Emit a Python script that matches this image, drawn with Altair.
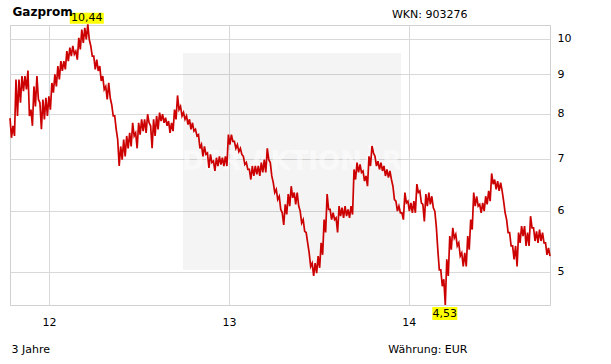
import altair as alt
import pandas as pd

# ---- data (Gazprom, EUR, 3 years) ----
# per-sample high / low of the dense daily price band, left to right
high = [7.90, 7.72, 8.86, 8.86, 8.95, 8.95, 9.10, 8.10, 8.68, 8.95, 8.27, 8.35, 8.39, 8.43, 8.77,
        9.00, 9.22, 9.36, 9.36, 9.64, 9.74, 9.79, 9.64, 10.03, 10.28, 10.33, 10.44, 9.79, 9.50, 9.40,
        9.22, 8.95, 8.68, 8.77, 8.22, 7.95, 7.41, 7.26, 7.41, 7.49, 7.56, 7.79, 7.56, 7.79, 7.87,
        7.87, 7.99, 7.72, 7.87, 7.95, 8.03, 7.99, 7.91, 7.83, 7.79, 8.10, 8.45, 8.18, 8.03, 7.95,
        7.87, 7.79, 7.64, 7.52, 7.30, 7.26, 7.12, 7.09, 6.95, 7.02, 7.05, 7.02, 7.05, 7.52, 7.52,
        7.37, 7.30, 7.22, 7.05, 6.92, 6.78, 6.85, 6.85, 6.85, 6.92, 6.98, 7.22, 6.92, 6.52, 6.39,
        6.26, 5.96, 6.11, 6.30, 6.45, 6.33, 6.33, 5.99, 5.84, 5.62, 5.29, 5.13, 5.13, 5.24, 5.45,
        5.84, 6.30, 6.02, 5.96, 5.87, 6.08, 6.05, 6.08, 6.02, 6.08, 6.78, 6.92, 6.88, 6.75, 6.65,
        7.05, 7.27, 7.05, 6.95, 6.92, 6.85, 6.78, 6.75, 6.45, 6.17, 6.08, 5.96, 6.33, 6.17, 6.14,
        6.17, 6.49, 6.36, 6.11, 6.30, 6.33, 6.26, 5.99, 5.34, 5.03, 4.89, 5.19, 5.56, 5.70, 5.59,
        5.45, 5.29, 5.29, 5.56, 5.84, 6.33, 6.26, 6.11, 6.14, 6.26, 6.36, 6.70, 6.58, 6.55, 6.52,
        6.17, 5.84, 5.62, 5.40, 5.40, 5.62, 5.73, 5.73, 5.62, 5.90, 5.70, 5.64, 5.67, 5.62, 5.45,
        5.37]
low = [7.45, 7.49, 7.95, 8.27, 8.56, 8.60, 7.95, 7.72, 8.18, 8.35, 7.64, 7.87, 7.95, 8.10, 8.52,
       8.68, 8.86, 9.09, 9.13, 9.36, 9.50, 9.55, 9.40, 9.69, 9.88, 9.98, 9.98, 9.50, 9.13, 9.09,
       8.82, 8.60, 8.35, 8.39, 7.95, 7.64, 6.85, 6.98, 7.05, 7.22, 7.26, 7.49, 7.22, 7.52, 7.60,
       7.56, 7.79, 7.22, 7.49, 7.64, 7.83, 7.79, 7.72, 7.56, 7.60, 7.87, 8.10, 7.95, 7.87, 7.75,
       7.64, 7.60, 7.49, 7.22, 7.05, 7.09, 6.81, 6.92, 6.75, 6.85, 6.88, 6.85, 6.85, 7.30, 7.37,
       7.22, 7.15, 7.09, 6.88, 6.78, 6.58, 6.65, 6.68, 6.65, 6.72, 6.72, 6.98, 6.65, 6.33, 6.20,
       6.02, 5.75, 5.93, 6.08, 6.23, 6.11, 6.08, 5.78, 5.64, 5.45, 5.08, 4.94, 4.98, 5.06, 5.26,
       5.62, 6.02, 5.84, 5.84, 5.62, 5.90, 5.87, 5.90, 5.87, 5.93, 6.58, 6.72, 6.72, 6.55, 6.45,
       6.85, 7.12, 6.85, 6.78, 6.75, 6.65, 6.62, 6.58, 6.20, 5.99, 5.96, 5.84, 6.14, 5.99, 5.96,
       5.96, 6.33, 6.14, 5.81, 6.08, 6.11, 6.05, 5.72, 5.03, 4.79, 4.53, 4.94, 5.34, 5.53, 5.40,
       5.24, 5.08, 5.08, 5.34, 5.67, 6.08, 6.08, 5.96, 5.99, 6.11, 6.17, 6.49, 6.39, 6.36, 6.36,
       5.96, 5.62, 5.40, 5.19, 5.08, 5.45, 5.56, 5.40, 5.40, 5.70, 5.48, 5.45, 5.48, 5.45, 5.26,
       5.24]
start_date = "2011-10-14"
end_date = "2014-10-15"
tick_years = [2012, 2013, 2014]
y_ticks = [5, 6, 7, 8, 9, 10]
header_left = ["Gazprom"]
header_right = ["WKN: 903276"]
footer_left = ["3 Jahre"]
footer_right = ["Währung: EUR"]
watermark = ["DER AKTIONÄR"]

FONT = "DejaVu Sans"
RED = "#cc0000"
GRID = "#d9d9d9"

n = len(high)
dates = pd.date_range(start_date, end_date, periods=2 * n)
rows = []
for i in range(n):
    rows.append({"date": dates[2 * i], "price": high[i]})
    rows.append({"date": dates[2 * i + 1], "price": low[i]})
df = pd.DataFrame(rows)


def fmt(v):
    return f"{v:.2f}".replace(".", ",")


imax = high.index(max(high))
imin = low.index(min(low))
max_df = pd.DataFrame([{"date": dates[2 * imax], "price": high[imax], "label": fmt(high[imax])}])
min_df = pd.DataFrame([{"date": dates[2 * imin + 1], "price": low[imin], "label": fmt(low[imin])}])

x_scale = alt.Scale(domain=[alt.DateTime(year=2011, month=10, date=14),
                            alt.DateTime(year=2014, month=10, date=15)], nice=False)
y_scale = alt.Scale(type="log", domain=[4.53, 10.42], nice=False)

x_axis = alt.Axis(values=[alt.DateTime(year=y, month=1, date=1) for y in tick_years],
                  format="%y", title=None, grid=True, gridColor=GRID, ticks=False, tickSize=0,
                  domain=False, labelPadding=11, labelFontSize=11, labelFont=FONT,
                  labelColor="#000000", labelFlush=False)
y_axis = alt.Axis(orient="right", values=y_ticks, title=None, grid=True, gridColor=GRID,
                  ticks=False, tickSize=0, domain=False, labelPadding=7, labelFontSize=11,
                  labelFont=FONT, labelColor="#000000", labelAlign="left")

X = alt.X("date:T", scale=x_scale, axis=x_axis)
Y = alt.Y("price:Q", scale=y_scale, axis=y_axis)

wm_box = alt.Chart(pd.DataFrame({"t": watermark})).mark_rect(color="#000000", opacity=0.045).encode(
    x=alt.value(173), x2=alt.value(391), y=alt.value(28), y2=alt.value(245))
wm_text = alt.Chart(pd.DataFrame({"t": watermark})).mark_text(
    font=FONT, fontSize=26, fontWeight="bold", color="#ffffff", opacity=0.5,
    align="center", baseline="middle").encode(text="t:N", x=alt.value(282), y=alt.value(137))

line = alt.Chart(df).mark_line(color=RED, strokeWidth=1.7, clip=False).encode(x=X, y=Y)

max_box = alt.Chart(max_df).mark_rect(color="#ffff00", xOffset=-18, x2Offset=16,
                                      yOffset=-11.5, y2Offset=-0.5).encode(
    x=alt.X("date:T", scale=x_scale, axis=x_axis), x2="date:T",
    y=alt.Y("price:Q", scale=y_scale, axis=y_axis), y2="price:Q")
max_txt = alt.Chart(max_df).mark_text(font=FONT, fontSize=11, color="#000000", align="center",
                                      baseline="middle", dx=-1, dy=-6).encode(
    x=alt.X("date:T", scale=x_scale, axis=x_axis),
    y=alt.Y("price:Q", scale=y_scale, axis=y_axis), text="label:N")
min_box = alt.Chart(min_df).mark_rect(color="#ffff00", xOffset=-13, x2Offset=12,
                                      yOffset=2, y2Offset=15).encode(
    x=alt.X("date:T", scale=x_scale, axis=x_axis), x2="date:T",
    y=alt.Y("price:Q", scale=y_scale, axis=y_axis), y2="price:Q")
min_txt = alt.Chart(min_df).mark_text(font=FONT, fontSize=11, color="#000000", align="center",
                                      baseline="middle", dx=-0.5, dy=8.5).encode(
    x=alt.X("date:T", scale=x_scale, axis=x_axis),
    y=alt.Y("price:Q", scale=y_scale, axis=y_axis), text="label:N")

t_gaz = alt.Chart(pd.DataFrame({"t": header_left})).mark_text(
    font=FONT, fontSize=12, fontWeight="bold", color="#000000", align="left",
    baseline="alphabetic").encode(text="t:N", x=alt.value(2.5), y=alt.value(-9.3))
t_wkn = alt.Chart(pd.DataFrame({"t": header_right})).mark_text(
    font=FONT, fontSize=11, color="#000000", align="right",
    baseline="alphabetic").encode(text="t:N", x=alt.value(457.5), y=alt.value(-6.7))
t_jahre = alt.Chart(pd.DataFrame({"t": footer_left})).mark_text(
    font=FONT, fontSize=11, color="#000000", align="left",
    baseline="alphabetic").encode(text="t:N", x=alt.value(1.5), y=alt.value(328))
t_eur = alt.Chart(pd.DataFrame({"t": footer_right})).mark_text(
    font=FONT, fontSize=11, color="#000000", align="right",
    baseline="alphabetic").encode(text="t:N", x=alt.value(457.5), y=alt.value(328))

chart = alt.layer(wm_box, wm_text, line, max_box, max_txt, min_box, min_txt,
                  t_gaz, t_wkn, t_jahre, t_eur).properties(
    width=540, height=280,
    padding={"left": 10, "top": 25, "right": 61, "bottom": 59},
    autosize=alt.AutoSizeParams(type="none"),
    background="#ffffff",
).configure_view(stroke="#d0d0d0", strokeWidth=1)

chart.save("out.html", embed_options={"renderer": "svg", "actions": False})
